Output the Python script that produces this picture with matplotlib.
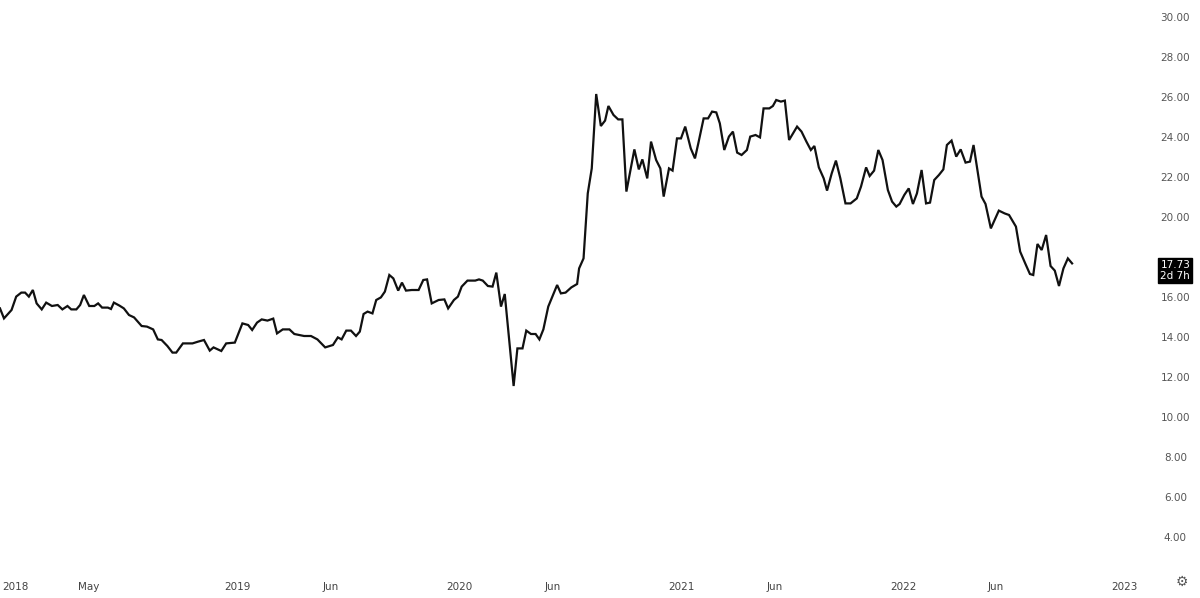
import matplotlib.pyplot as plt

# weekly-ish close values (decimal year, price)
years = [2017.932, 2017.95, 2017.984, 2018.005, 2018.028, 2018.045, 2018.062, 2018.080, 2018.097, 2018.120,
         2018.140, 2018.166, 2018.192, 2018.213, 2018.236, 2018.253, 2018.276, 2018.293, 2018.310, 2018.334,
         2018.357, 2018.374, 2018.392, 2018.418, 2018.432, 2018.445, 2018.470, 2018.490, 2018.513, 2018.536,
         2018.570, 2018.594, 2018.622, 2018.643, 2018.660, 2018.686, 2018.709, 2018.726, 2018.756, 2018.799,
         2018.825, 2018.851, 2018.877, 2018.894, 2018.929, 2018.951, 2018.990, 2019.024, 2019.050, 2019.068,
         2019.090, 2019.111, 2019.137, 2019.163, 2019.180, 2019.206, 2019.236, 2019.258, 2019.302, 2019.333,
         2019.362, 2019.397, 2019.432, 2019.454, 2019.471, 2019.492, 2019.513, 2019.536, 2019.553, 2019.570,
         2019.588, 2019.610, 2019.627, 2019.648, 2019.666, 2019.686, 2019.704, 2019.726, 2019.743, 2019.761,
         2019.787, 2019.818, 2019.839, 2019.856, 2019.877, 2019.908, 2019.934, 2019.951, 2019.977, 2019.995,
         2020.012, 2020.038, 2020.073, 2020.090, 2020.107, 2020.130, 2020.151, 2020.168, 2020.189, 2020.206,
         2020.246, 2020.263, 2020.286, 2020.303, 2020.324, 2020.345, 2020.362, 2020.380, 2020.402, 2020.442,
         2020.459, 2020.480, 2020.506, 2020.532, 2020.541, 2020.561, 2020.580, 2020.598, 2020.618, 2020.639,
         2020.658, 2020.673, 2020.696, 2020.717, 2020.736, 2020.754, 2020.790, 2020.810, 2020.826, 2020.848,
         2020.865, 2020.888, 2020.907, 2020.922, 2020.946, 2020.962, 2020.982, 2021.000, 2021.019, 2021.044,
         2021.063, 2021.078, 2021.102, 2021.122, 2021.140, 2021.159, 2021.175, 2021.195, 2021.216, 2021.234,
         2021.253, 2021.273, 2021.297, 2021.312, 2021.336, 2021.356, 2021.372, 2021.398, 2021.414, 2021.429,
         2021.450, 2021.468, 2021.487, 2021.523, 2021.543, 2021.565, 2021.585, 2021.601, 2021.621, 2021.643,
         2021.658, 2021.679, 2021.698, 2021.718, 2021.741, 2021.764, 2021.792, 2021.811, 2021.834, 2021.850,
         2021.870, 2021.889, 2021.908, 2021.932, 2021.951, 2021.970, 2021.985, 2022.006, 2022.026, 2022.045,
         2022.063, 2022.084, 2022.104, 2022.122, 2022.141, 2022.162, 2022.182, 2022.198, 2022.219, 2022.240,
         2022.260, 2022.282, 2022.302, 2022.318, 2022.338, 2022.354, 2022.372, 2022.396, 2022.432, 2022.458,
         2022.478, 2022.509, 2022.528, 2022.552, 2022.572, 2022.587, 2022.606, 2022.625, 2022.645, 2022.665,
         2022.684, 2022.703, 2022.723, 2022.743, 2022.762]
prices = [15.48, 14.98, 15.40, 16.07, 16.27, 16.27, 16.07, 16.40, 15.73, 15.43,
          15.77, 15.60, 15.65, 15.43, 15.60, 15.43, 15.43, 15.65, 16.15, 15.60,
          15.60, 15.73, 15.52, 15.52, 15.45, 15.77, 15.62, 15.48, 15.15, 15.03,
          14.60, 14.57, 14.43, 13.93, 13.90, 13.60, 13.27, 13.27, 13.73, 13.73,
          13.82, 13.90, 13.37, 13.53, 13.35, 13.73, 13.77, 14.73, 14.65, 14.40,
          14.77, 14.93, 14.87, 14.97, 14.23, 14.43, 14.43, 14.20, 14.10, 14.10,
          13.93, 13.53, 13.65, 14.03, 13.93, 14.37, 14.37, 14.10, 14.32, 15.20,
          15.32, 15.23, 15.90, 16.03, 16.32, 17.15, 16.98, 16.37, 16.77, 16.37,
          16.40, 16.40, 16.90, 16.93, 15.73, 15.90, 15.93, 15.48, 15.90, 16.07,
          16.57, 16.87, 16.87, 16.93, 16.87, 16.60, 16.57, 17.27, 15.57, 16.20,
          11.60, 13.48, 13.48, 14.37, 14.20, 14.20, 13.93, 14.43, 15.57, 16.65,
          16.23, 16.27, 16.53, 16.70, 17.48, 17.98, 21.23, 22.48, 26.20, 24.60,
          24.87, 25.60, 25.15, 24.93, 24.93, 21.32, 23.43, 22.43, 22.93, 21.98,
          23.82, 22.90, 22.48, 21.07, 22.48, 22.37, 23.98, 23.98, 24.57, 23.48,
          22.98, 23.73, 24.98, 24.98, 25.32, 25.28, 24.73, 23.40, 24.07, 24.32,
          23.27, 23.15, 23.40, 24.07, 24.15, 24.03, 25.48, 25.48, 25.60, 25.90,
          25.82, 25.87, 23.90, 24.57, 24.32, 23.82, 23.40, 23.60, 22.53, 21.98,
          21.37, 22.23, 22.87, 21.98, 20.73, 20.73, 20.98, 21.57, 22.53, 22.10,
          22.37, 23.40, 22.90, 21.40, 20.82, 20.57, 20.70, 21.15, 21.48, 20.70,
          21.23, 22.40, 20.73, 20.77, 21.90, 22.15, 22.43, 23.65, 23.87, 23.07,
          23.43, 22.77, 22.82, 23.65, 22.23, 21.07, 20.70, 19.48, 20.37, 20.23,
          20.15, 19.57, 18.32, 17.70, 17.20, 17.15, 18.70, 18.40, 19.15, 17.60,
          17.37, 16.60, 17.48, 17.98, 17.73]

x_tick_pos = [2018.0, 2018.33, 2019.0, 2019.42, 2020.0, 2020.42, 2021.0, 2021.42, 2022.0, 2022.42, 2023.0]
x_tick_labels = ["2018", "May", "2019", "Jun", "2020", "Jun", "2021", "Jun", "2022", "Jun", "2023"]
y_ticks = [4, 6, 8, 10, 12, 14, 16, 18, 20, 22, 24, 26, 28, 30]

fig = plt.figure(figsize=(12, 5.98), dpi=100)
ax = fig.add_axes([0, 28 / 598, 1150 / 1200, 570 / 598])
ax.plot(years, prices, color="#111111", linewidth=1.6, solid_joinstyle="miter")
ax.set_xlim(2017.932, 2023.113)
ax.set_ylim(2.4, 30.9)
for s in ax.spines.values():
    s.set_visible(False)
ax.set_xticks([])
ax.set_yticks([])

# x labels under the plot
for p, lab in zip(x_tick_pos, x_tick_labels):
    ax.text(p, -0.03, lab, transform=ax.get_xaxis_transform(), ha="center", va="center",
            fontsize=7.5, color="#444444")

# price scale on the right, skip the one hidden behind the tag
for v in y_ticks:
    if v == 18:
        continue
    ax.text(1.022, v, f"{v:.2f}", transform=ax.get_yaxis_transform(), ha="center", va="center",
            fontsize=7.5, color="#555555")

last = prices[-1]
ax.text(1.022, last - 0.35, f"{last:.2f}\n2d 7h", transform=ax.get_yaxis_transform(),
        ha="center", va="center", fontsize=7.5, color="white", linespacing=1.1,
        bbox=dict(boxstyle="square,pad=0.2", fc="black", ec="black"))

fig.text(1182 / 1200, 1 - 582 / 598, "\u2699", ha="center", va="center", fontsize=10, color="#555555")

fig.savefig("out.png", dpi=100)
